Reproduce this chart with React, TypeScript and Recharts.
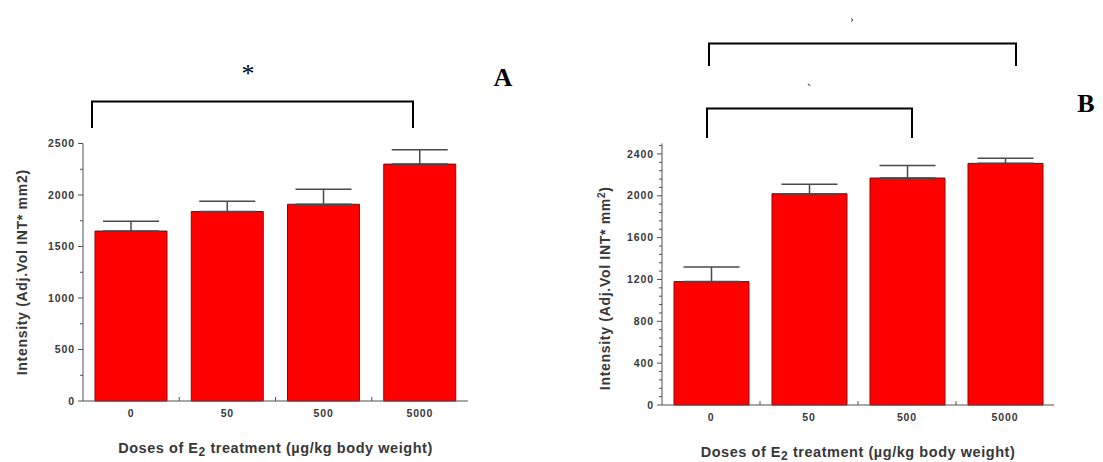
import React from "react";
import { Bar, BarChart, ErrorBar, Label, XAxis, YAxis } from "recharts";

// E2 doses, µg/kg body weight
const doses = ["0", "50", "500", "5000"];

// panel A: mean intensity and SEM per dose
const meansA = [1650, 1840, 1910, 2300];
const semA = [95, 100, 145, 140];

// panel B: mean intensity and SEM per dose
const meansB = [1180, 2020, 2170, 2310];
const semB = [140, 90, 120, 50];

const majorTicksA = [0, 500, 1000, 1500, 2000, 2500];
const minorTicksA = [250, 750, 1250, 1750, 2250];
const majorTicksB = [0, 400, 800, 1200, 1600, 2000, 2400];
const minorTicksB = majorTicksB
  .flatMap((t) => [80, 160, 240, 320].map((k) => t + k))
  .filter((v) => v < 2500);

const RED = "#ff0000";
const BAR_EDGE = "#9a0000";
const AXIS = "#505050";
const INK = "#383838";
const SANS = "'Liberation Sans', Arial, sans-serif";
const SERIF = "'Liberation Serif', 'Times New Roman', serif";

const Y_TICK_GAP = 8;
const X_TICK_GAP = 12;

const rows = (means: number[], sem: number[]) =>
  doses.map((dose, i) => ({ dose, mean: means[i], err: [0, sem[i]] }));

const yTick = (majors: number[]) => (props: any) => {
  const { x, y, payload } = props;
  const axisX = x + Y_TICK_GAP;
  const major = majors.includes(payload.value);
  return (
    <g>
      <line x1={axisX - (major ? 5 : 3)} x2={axisX} y1={y} y2={y} stroke={AXIS} />
      {major && (
        <text
          x={x}
          y={y}
          dy="0.35em"
          textAnchor="end"
          fontFamily={SANS}
          fontSize={10.5}
          fontWeight={700}
          letterSpacing={0.9}
          fill={INK}
        >
          {payload.value}
        </text>
      )}
    </g>
  );
};

// category label plus a small upward mark at the right edge of each band
const xTick = (bandHalf: number) => (props: any) => {
  const { x, y, payload, index } = props;
  const axisY = y - X_TICK_GAP;
  return (
    <g>
      <text
        x={x}
        y={y}
        dy="0.35em"
        textAnchor="middle"
        fontFamily={SANS}
        fontSize={10.5}
        fontWeight={700}
        letterSpacing={0.9}
        fill={INK}
      >
        {payload.value}
      </text>
      {index < doses.length - 1 && (
        <line
          x1={x + bandHalf}
          x2={x + bandHalf}
          y1={axisY}
          y2={axisY - 4}
          stroke={AXIS}
        />
      )}
    </g>
  );
};

interface PanelProps {
  means: number[];
  sem: number[];
  majors: number[];
  minors: number[];
  left: number;
  top: number;
  width: number;
  height: number;
  margin: { top: number; right: number; bottom: number; left: number };
  yAxisWidth: number;
  barSize: number;
  capHalf: number;
  yTitleX: number;
  yTitleDy: number;
  superscriptUnit: boolean;
}

function DosePanel(p: PanelProps) {
  const plotWidth = p.width - p.margin.left - p.margin.right - p.yAxisWidth;
  const bandHalf = plotWidth / doses.length / 2;
  const ticks = [...p.majors, ...p.minors].sort((a, b) => a - b);

  return (
    <div style={{ position: "absolute", left: p.left, top: p.top }}>
      <BarChart
        width={p.width}
        height={p.height}
        data={rows(p.means, p.sem)}
        margin={p.margin}
      >
        <XAxis
          dataKey="dose"
          type="category"
          height={20}
          interval={0}
          tickSize={0}
          tickMargin={X_TICK_GAP}
          tickLine={false}
          axisLine={{ stroke: AXIS }}
          tick={xTick(bandHalf)}
        >
          <Label
            content={(lp: any) => {
              const vb = lp.viewBox;
              return (
                <text
                  x={vb.x + vb.width / 2}
                  y={vb.y + 47}
                  dy="0.35em"
                  textAnchor="middle"
                  fontFamily={SANS}
                  fontSize={14.5}
                  fontWeight={700}
                  letterSpacing={0.55}
                  fill={INK}
                >
                  Doses of E
                  <tspan fontSize={12} dy={3}>2</tspan>
                  <tspan dy={-3}> treatment (µg/kg body weight)</tspan>
                </text>
              );
            }}
          />
        </XAxis>
        <YAxis
          type="number"
          domain={[0, 2500]}
          ticks={ticks}
          interval={0}
          width={p.yAxisWidth}
          tickSize={0}
          tickMargin={Y_TICK_GAP}
          tickLine={false}
          axisLine={{ stroke: AXIS }}
          tick={yTick(p.majors)}
        >
          <Label
            content={(lp: any) => {
              const vb = lp.viewBox;
              const cx = vb.x + p.yTitleX;
              const cy = vb.y + vb.height / 2 + p.yTitleDy;
              return (
                <text
                  x={cx}
                  y={cy}
                  dy="0.35em"
                  transform={`rotate(-90 ${cx} ${cy})`}
                  textAnchor="middle"
                  fontFamily={SANS}
                  fontSize={14}
                  fontWeight={700}
                  letterSpacing={0.7}
                  fill={INK}
                >
                  {p.superscriptUnit ? (
                    <>
                      Intensity (Adj.Vol INT* mm
                      <tspan fontSize={10} dy={-5}>2</tspan>
                      <tspan dy={5}>)</tspan>
                    </>
                  ) : (
                    "Intensity (Adj.Vol INT* mm2)"
                  )}
                </text>
              );
            }}
          />
        </YAxis>
        <Bar
          dataKey="mean"
          fill={RED}
          stroke={BAR_EDGE}
          strokeWidth={1}
          barSize={p.barSize}
          isAnimationActive={false}
        >
          <ErrorBar
            dataKey="err"
            direction="y"
            width={p.capHalf}
            stroke="#4a4a4a"
            strokeWidth={1.5}
            isAnimationActive={false}
          />
        </Bar>
      </BarChart>
    </div>
  );
}

export default function App() {
  return (
    <div
      style={{
        position: "absolute",
        left: 0,
        top: 0,
        width: 1103,
        height: 462,
        background: "#ffffff",
        overflow: "hidden",
      }}
    >
      <DosePanel
        means={meansA}
        sem={semA}
        majors={majorTicksA}
        minors={minorTicksA}
        left={0}
        top={130}
        width={490}
        height={332}
        margin={{ top: 13.5, right: 22, bottom: 41, left: 0 }}
        yAxisWidth={83}
        barSize={72}
        capHalf={28}
        yTitleX={22}
        yTitleDy={0}
        superscriptUnit={false}
      />
      <DosePanel
        means={meansB}
        sem={semB}
        majors={majorTicksB}
        minors={minorTicksB}
        left={580}
        top={130}
        width={490}
        height={332}
        margin={{ top: 13.5, right: 16, bottom: 37, left: 0 }}
        yAxisWidth={82}
        barSize={75}
        capHalf={28}
        yTitleX={25}
        yTitleDy={14}
        superscriptUnit={true}
      />

      {/* significance brackets and panel letters */}
      <svg
        width={1103}
        height={462}
        style={{ position: "absolute", left: 0, top: 0, pointerEvents: "none" }}
      >
        <path d="M92 128 V101.5 H413 V128" fill="none" stroke="#000" strokeWidth={2} />
        <text x={248} y={82} textAnchor="middle" fontFamily={SERIF} fontSize={26} fill="#000">
          *
        </text>
        <text x={503} y={86} textAnchor="middle" fontFamily={SERIF} fontSize={26} fontWeight={700} fill="#000">
          A
        </text>

        <path d="M709 66 V43.5 H1016 V66" fill="none" stroke="#000" strokeWidth={2} />
        <path d="M707 138 V108.5 H912 V138" fill="none" stroke="#000" strokeWidth={2} />
        <text x={852} y={22} textAnchor="middle" fontFamily={SERIF} fontSize={10} fill="#000">
          ›
        </text>
        <text x={809} y={93} textAnchor="middle" fontFamily={SERIF} fontSize={12} fill="#000">
          `
        </text>
        <text x={1086} y={112} textAnchor="middle" fontFamily={SERIF} fontSize={26} fontWeight={700} fill="#000">
          B
        </text>
      </svg>
    </div>
  );
}
